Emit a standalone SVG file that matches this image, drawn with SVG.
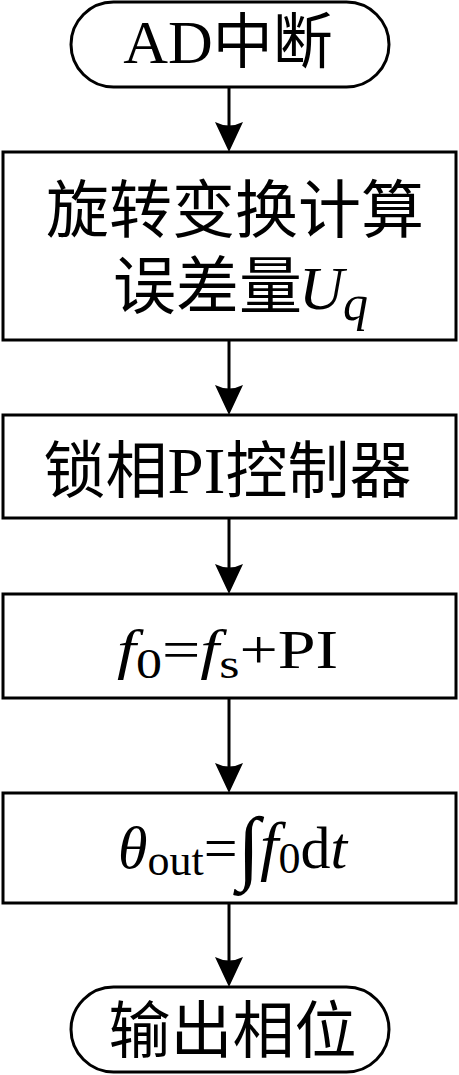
<svg xmlns="http://www.w3.org/2000/svg" width="459" height="1075" viewBox="0 0 459 1075">
<style>
.shape{fill:#fff;stroke:#000;stroke-width:3}
.conn{stroke:#000;stroke-width:3;fill:none}
.t{font-family:"Liberation Serif","Noto Sans CJK SC",serif;fill:#000}
.i{font-style:italic}
</style>
<defs>
<marker id="ah" markerUnits="userSpaceOnUse" viewBox="0 0 30 28" refX="10" refY="14" markerWidth="30" markerHeight="28" orient="auto">
<path d="M0,0 L30,14 L0,28 Q7,14 0,0 Z" fill="#000"/>
</marker>
</defs>
<rect width="459" height="1075" fill="#fff"/>
<g id="connectors">
<line class="conn" x1="229" y1="87" x2="229" y2="132" marker-end="url(#ah)"/>
<line class="conn" x1="229" y1="340" x2="229" y2="395" marker-end="url(#ah)"/>
<line class="conn" x1="229" y1="518" x2="229" y2="574" marker-end="url(#ah)"/>
<line class="conn" x1="229" y1="698" x2="229" y2="773" marker-end="url(#ah)"/>
<line class="conn" x1="229" y1="903" x2="229" y2="967" marker-end="url(#ah)"/>
</g>
<g id="start">
<rect class="shape" x="71" y="2" width="318" height="85" rx="42.5"/>
<text class="t" x="228" y="63" text-anchor="middle" font-size="60"><tspan font-size="62">AD</tspan>中断</text>
</g>
<g id="rotate">
<rect class="shape" x="3" y="152" width="453" height="188"/>
<text class="t" x="235" y="232" text-anchor="middle" font-size="63">旋转变换计算</text>
<text class="t" x="113" y="308" font-size="63">误差量</text>
<text class="t i" x="299" y="309" font-size="62">U</text>
<text class="t i" x="343" y="320" font-size="50">q</text>
</g>
<g id="pi">
<rect class="shape" x="3" y="415" width="453" height="103"/>
<text class="t" x="227.5" y="493" text-anchor="middle" font-size="62">锁相<tspan font-size="65">PI</tspan>控制器</text>
</g>
<g id="freq">
<rect class="shape" x="3" y="594" width="453" height="104"/>
<text class="t" transform="translate(117,668) scale(1,0.8)" font-size="68"><tspan class="i">f</tspan><tspan font-size="52" dy="12">0</tspan><tspan dy="-12">=</tspan><tspan class="i">f</tspan><tspan font-size="52" dy="12">s</tspan><tspan dy="-12">+PI</tspan></text>
</g>
<g id="theta">
<rect class="shape" x="3" y="793" width="453" height="110"/>
<text class="t" x="118" y="868" font-size="60"><tspan class="i">θ</tspan><tspan font-size="44" dy="7">out</tspan><tspan dy="-7">=</tspan><tspan font-size="82" dy="6">∫</tspan><tspan class="i" font-size="66" dy="-6">f</tspan><tspan font-size="44" dy="5">0</tspan><tspan dy="-5">d</tspan><tspan class="i">t</tspan></text>
</g>
<g id="end">
<rect class="shape" x="71" y="987" width="318" height="85" rx="42.5"/>
<text class="t" x="232.5" y="1053" text-anchor="middle" font-size="62">输出相位</text>
</g>
</svg>
